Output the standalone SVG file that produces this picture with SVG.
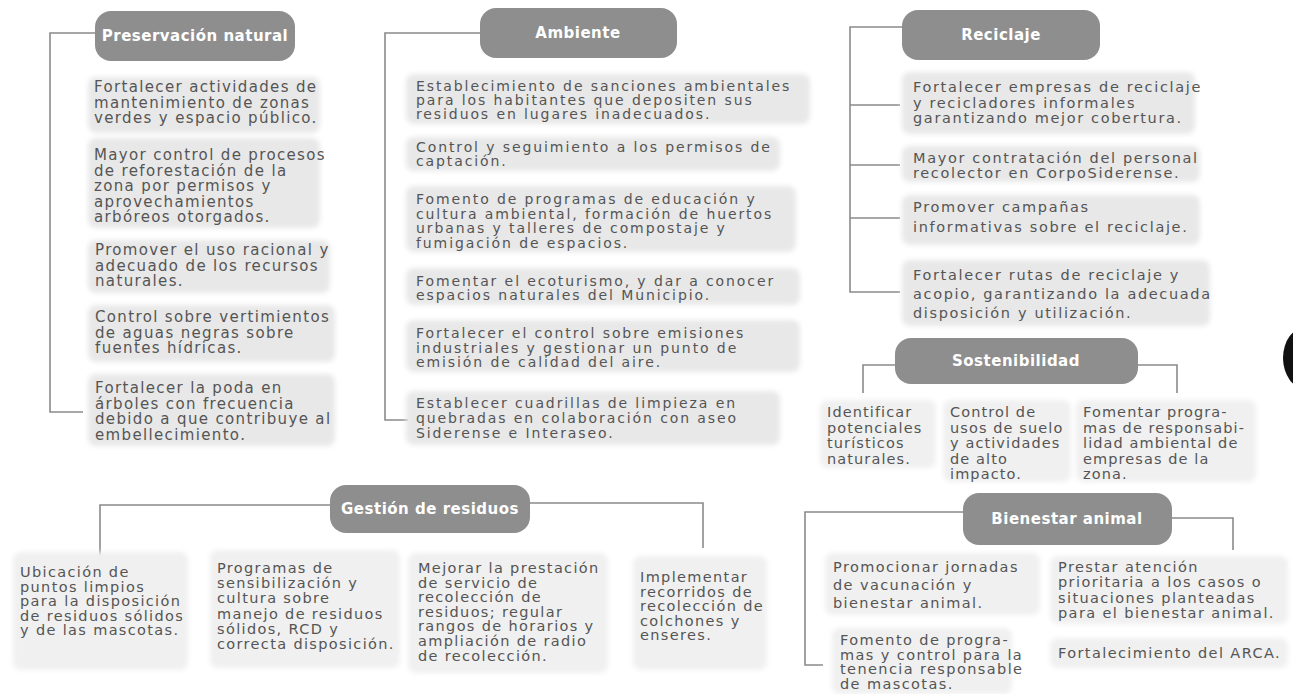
<svg xmlns="http://www.w3.org/2000/svg" width="1293" height="694" viewBox="0 0 1293 694">
<defs>
<filter id="soft" x="-10%" y="-20%" width="120%" height="140%"><feGaussianBlur stdDeviation="2.5"/></filter>
</defs>
<style>
.bg{fill:#ffffff}
.pill{fill:#8e8e8e}
.ph{font-family:"DejaVu Sans",sans-serif;font-weight:bold;font-size:15px;letter-spacing:0.5px;fill:#ffffff;text-anchor:middle}
.box{fill:#e8e8e8;filter:url(#soft)}
.boxl{fill:#f0f0f0;filter:url(#soft)}
.tp{font-family:"DejaVu Sans",sans-serif;font-size:15px;letter-spacing:1.35px;fill:#555555}
.ta{font-family:"DejaVu Sans",sans-serif;font-size:14px;letter-spacing:1.9px;fill:#555555}
.tr{font-family:"DejaVu Sans",sans-serif;font-size:14.5px;letter-spacing:1.65px;fill:#555555}
.ts{font-family:"DejaVu Sans",sans-serif;font-size:14.5px;letter-spacing:1.1px;fill:#555555}
.tg{font-family:"DejaVu Sans",sans-serif;font-size:14.5px;letter-spacing:1.35px;fill:#555555}
.tb{font-family:"DejaVu Sans",sans-serif;font-size:14.5px;letter-spacing:1.4px;fill:#555555}
.c{fill:none;stroke:#8a8a8a;stroke-width:1.6}
</style>
<rect class="bg" x="0" y="0" width="1293" height="694"/>

<g id="connectors">
<path class="c" d="M95,33 H50 V412 H83"/>
<path class="c" d="M480,33 H385 V420 H408"/>
<path class="c" d="M902,27 H850 V292 H900 M850,105 H900 M850,165 H900 M850,218 H900"/>
<path class="c" d="M895,365 H863 V393 M1138,365 H1177 V393"/>
<path class="c" d="M330,505 H100 V555 M530,503 H703 V548"/>
<path class="c" d="M963,512 H805 V665 H823 M1172,518 H1233 V550"/>
</g>

<g id="preservacion">
<rect class="pill" x="95" y="11" width="200" height="50" rx="16"/>
<text class="ph" x="195" y="41">Preservación natural</text>
</g>
<g id="pres-1">
<rect class="box" x="88" y="77" width="232" height="56" rx="8"/>
<text class="tp" x="94" y="92"><tspan x="94">Fortalecer actividades de</tspan><tspan x="94" dy="15.5">mantenimiento de zonas</tspan><tspan x="94" dy="15.5">verdes y espacio público.</tspan></text>
</g>
<g id="pres-2">
<rect class="box" x="88" y="138" width="232" height="90" rx="8"/>
<text class="tp" x="94" y="160"><tspan x="94">Mayor control de procesos</tspan><tspan x="94" dy="15.5">de reforestación de la</tspan><tspan x="94" dy="15.5">zona por permisos y</tspan><tspan x="94" dy="15.5">aprovechamientos</tspan><tspan x="94" dy="15.5">arbóreos otorgados.</tspan></text>
</g>
<g id="pres-3">
<rect class="box" x="88" y="240" width="242" height="53" rx="8"/>
<text class="tp" x="95" y="255"><tspan x="95">Promover el uso racional y</tspan><tspan x="95" dy="15.5">adecuado de los recursos</tspan><tspan x="95" dy="15.5">naturales.</tspan></text>
</g>
<g id="pres-4">
<rect class="box" x="88" y="305" width="247" height="57" rx="8"/>
<text class="tp" x="95" y="322"><tspan x="95">Control sobre vertimientos</tspan><tspan x="95" dy="15.6">de aguas negras sobre</tspan><tspan x="95" dy="15.6">fuentes hídricas.</tspan></text>
</g>
<g id="pres-5">
<rect class="box" x="88" y="374" width="247" height="72" rx="8"/>
<text class="tp" x="95" y="393"><tspan x="95">Fortalecer la poda en</tspan><tspan x="95" dy="15.5">árboles con frecuencia</tspan><tspan x="95" dy="15.5">debido a que contribuye al</tspan><tspan x="95" dy="15.5">embellecimiento.</tspan></text>
</g>

<g id="ambiente">
<rect class="pill" x="480" y="8" width="197" height="50" rx="16"/>
<text class="ph" x="578" y="38">Ambiente</text>
</g>
<g id="amb-1">
<rect class="box" x="406" y="74" width="404" height="50" rx="8"/>
<text class="ta" x="416" y="91"><tspan x="416">Establecimiento de sanciones ambientales</tspan><tspan x="416" dy="14">para los habitantes que depositen sus</tspan><tspan x="416" dy="14">residuos en lugares inadecuados.</tspan></text>
</g>
<g id="amb-2">
<rect class="box" x="406" y="137" width="374" height="34" rx="8"/>
<text class="ta" x="416" y="152"><tspan x="416">Control y seguimiento a los permisos de</tspan><tspan x="416" dy="14">captación.</tspan></text>
</g>
<g id="amb-3">
<rect class="box" x="406" y="186" width="390" height="66" rx="8"/>
<text class="ta" x="416" y="204"><tspan x="416">Fomento de programas de educación y</tspan><tspan x="416" dy="14.5">cultura ambiental, formación de huertos</tspan><tspan x="416" dy="14.5">urbanas y talleres de compostaje y</tspan><tspan x="416" dy="14.5">fumigación de espacios.</tspan></text>
</g>
<g id="amb-4">
<rect class="box" x="406" y="268" width="394" height="37" rx="8"/>
<text class="ta" x="416" y="286"><tspan x="416">Fomentar el ecoturismo, y dar a conocer</tspan><tspan x="416" dy="14">espacios naturales del Municipio.</tspan></text>
</g>
<g id="amb-5">
<rect class="box" x="406" y="320" width="394" height="52" rx="8"/>
<text class="ta" x="416" y="338"><tspan x="416">Fortalecer el control sobre emisiones</tspan><tspan x="416" dy="14.5">industriales y gestionar un punto de</tspan><tspan x="416" dy="14.5">emisión de calidad del aire.</tspan></text>
</g>
<g id="amb-6">
<rect class="box" x="406" y="391" width="374" height="54" rx="8"/>
<text class="ta" x="416" y="408"><tspan x="416">Establecer cuadrillas de limpieza en</tspan><tspan x="416" dy="15">quebradas en colaboración con aseo</tspan><tspan x="416" dy="15">Siderense e Interaseo.</tspan></text>
</g>

<g id="reciclaje">
<rect class="pill" x="902" y="10" width="198" height="50" rx="16"/>
<text class="ph" x="1001" y="40">Reciclaje</text>
</g>
<g id="rec-1">
<rect class="box" x="902" y="72" width="293" height="62" rx="8"/>
<text class="tr" x="913" y="92"><tspan x="913">Fortalecer empresas de reciclaje</tspan><tspan x="913" dy="15.5">y recicladores informales</tspan><tspan x="913" dy="15.5">garantizando mejor cobertura.</tspan></text>
</g>
<g id="rec-2">
<rect class="box" x="902" y="146" width="298" height="36" rx="8"/>
<text class="tr" x="913" y="163"><tspan x="913">Mayor contratación del personal</tspan><tspan x="913" dy="14.8">recolector en CorpoSiderense.</tspan></text>
</g>
<g id="rec-3">
<rect class="box" x="902" y="195" width="298" height="50" rx="8"/>
<text class="tr" x="913" y="212"><tspan x="913">Promover campañas</tspan><tspan x="913" dy="20">informativas sobre el reciclaje.</tspan></text>
</g>
<g id="rec-4">
<rect class="box" x="902" y="260" width="308" height="66" rx="8"/>
<text class="tr" x="913" y="280"><tspan x="913">Fortalecer rutas de reciclaje y</tspan><tspan x="913" dy="19">acopio, garantizando la adecuada</tspan><tspan x="913" dy="19">disposición y utilización.</tspan></text>
</g>

<g id="sostenibilidad">
<rect class="pill" x="895" y="338" width="243" height="46" rx="16"/>
<text class="ph" x="1016" y="366">Sostenibilidad</text>
</g>
<g id="sos-1">
<rect class="boxl" x="820" y="400" width="116" height="68" rx="8"/>
<text class="ts" x="827" y="417"><tspan x="827">Identificar</tspan><tspan x="827" dy="15.5">potenciales</tspan><tspan x="827" dy="15.5">turísticos</tspan><tspan x="827" dy="15.5">naturales.</tspan></text>
</g>
<g id="sos-2">
<rect class="boxl" x="943" y="400" width="128" height="82" rx="8"/>
<text class="ts" x="950" y="417"><tspan x="950">Control de</tspan><tspan x="950" dy="15.5">usos de suelo</tspan><tspan x="950" dy="15.5">y actividades</tspan><tspan x="950" dy="15.5">de alto</tspan><tspan x="950" dy="15.5">impacto.</tspan></text>
</g>
<g id="sos-3">
<rect class="boxl" x="1076" y="400" width="180" height="82" rx="8"/>
<text class="ts" x="1083" y="417"><tspan x="1083">Fomentar progra-</tspan><tspan x="1083" dy="15.5">mas de responsabi-</tspan><tspan x="1083" dy="15.5">lidad ambiental de</tspan><tspan x="1083" dy="15.5">empresas de la</tspan><tspan x="1083" dy="15.5">zona.</tspan></text>
</g>

<g id="gestion">
<rect class="pill" x="330" y="485" width="200" height="48" rx="16"/>
<text class="ph" x="430" y="514">Gestión de residuos</text>
</g>
<g id="ges-1">
<rect class="boxl" x="13" y="552" width="175" height="118" rx="8"/>
<text class="tg" x="20" y="577"><tspan x="20">Ubicación de</tspan><tspan x="20" dy="14.6">puntos limpios</tspan><tspan x="20" dy="14.6">para la disposición</tspan><tspan x="20" dy="14.6">de residuos sólidos</tspan><tspan x="20" dy="14.6">y de las mascotas.</tspan></text>
</g>
<g id="ges-2">
<rect class="boxl" x="210" y="550" width="190" height="118" rx="8"/>
<text class="tg" x="217" y="573"><tspan x="217">Programas de</tspan><tspan x="217" dy="15.2">sensibilización y</tspan><tspan x="217" dy="15.2">cultura sobre</tspan><tspan x="217" dy="15.2">manejo de residuos</tspan><tspan x="217" dy="15.2">sólidos, RCD y</tspan><tspan x="217" dy="15.2">correcta disposición.</tspan></text>
</g>
<g id="ges-3">
<rect class="boxl" x="408" y="553" width="200" height="120" rx="8"/>
<text class="tg" x="418" y="573"><tspan x="418">Mejorar la prestación</tspan><tspan x="418" dy="14.6">de servicio de</tspan><tspan x="418" dy="14.6">recolección de</tspan><tspan x="418" dy="14.6">residuos; regular</tspan><tspan x="418" dy="14.6">rangos de horarios y</tspan><tspan x="418" dy="14.6">ampliación de radio</tspan><tspan x="418" dy="14.6">de recolección.</tspan></text>
</g>
<g id="ges-4">
<rect class="boxl" x="633" y="556" width="134" height="114" rx="8"/>
<text class="tg" x="640" y="582"><tspan x="640">Implementar</tspan><tspan x="640" dy="14.6">recorridos de</tspan><tspan x="640" dy="14.6">recolección de</tspan><tspan x="640" dy="14.6">colchones y</tspan><tspan x="640" dy="14.6">enseres.</tspan></text>
</g>

<g id="bienestar">
<rect class="pill" x="963" y="493" width="209" height="52" rx="16"/>
<text class="ph" x="1067" y="524">Bienestar animal</text>
</g>
<g id="bie-1">
<rect class="boxl" x="825" y="553" width="215" height="62" rx="8"/>
<text class="tb" x="833" y="572"><tspan x="833">Promocionar jornadas</tspan><tspan x="833" dy="18">de vacunación y</tspan><tspan x="833" dy="18">bienestar animal.</tspan></text>
</g>
<g id="bie-2">
<rect class="boxl" x="832" y="628" width="180" height="66" rx="8"/>
<text class="tb" x="840" y="645"><tspan x="840">Fomento de progra-</tspan><tspan x="840" dy="14.7">mas y control para la</tspan><tspan x="840" dy="14.7">tenencia responsable</tspan><tspan x="840" dy="14.7">de mascotas.</tspan></text>
</g>
<g id="bie-3">
<rect class="boxl" x="1050" y="556" width="238" height="68" rx="8"/>
<text class="tb" x="1058" y="572"><tspan x="1058">Prestar atención</tspan><tspan x="1058" dy="15.3">prioritaria a los casos o</tspan><tspan x="1058" dy="15.3">situaciones planteadas</tspan><tspan x="1058" dy="15.3">para el bienestar animal.</tspan></text>
</g>
<g id="bie-4">
<rect class="boxl" x="1050" y="638" width="238" height="30" rx="8"/>
<text class="tb" x="1058" y="658">Fortalecimiento del ARCA.</text>
</g>

<ellipse cx="1306" cy="358" rx="23" ry="31" fill="#111111"/>
</svg>
